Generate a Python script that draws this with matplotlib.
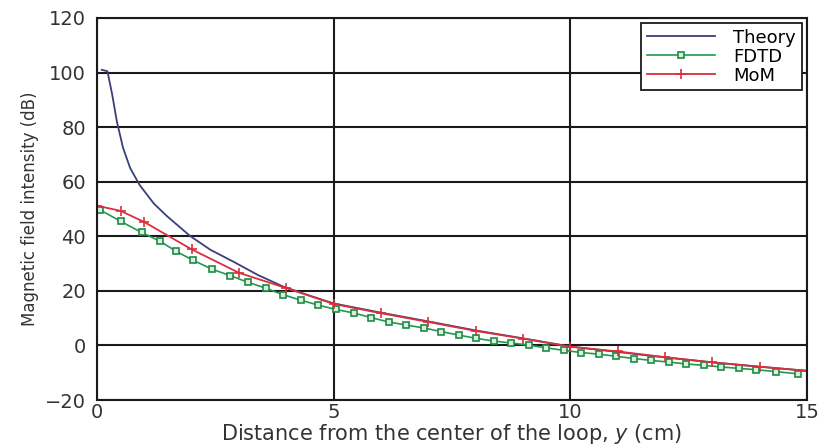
# Magnetic field intensity along the axis of the loop: theory vs FDTD vs MoM

import numpy as np
import matplotlib.pyplot as plt

plt.rcParams['font.family'] = ['DejaVu Sans']

# Theory curve
theory_x = [0.1, 0.22, 0.32, 0.42, 0.55, 0.7, 0.9, 1.2, 1.47, 1.96, 2.4, 2.87,
            3.4, 3.93, 4.5, 5, 6, 7, 8, 9, 10, 11, 12, 13, 14, 15]
theory_y = [101, 100.5, 92, 82, 72.4, 65, 58.8, 52, 47.5, 40.2, 35, 30.8,
            25.8, 21.6, 18.2, 15.4, 12, 8.8, 5.5, 2.6, -0.4, -2.4, -4.4, -6.2, -7.8, -9.3]

# FDTD samples
fdtd_x = [0.06, 0.5, 0.94, 1.33, 1.67, 2.02, 2.42, 2.81, 3.18, 3.56,
          3.93, 4.3, 4.67, 5.04, 5.42, 5.79, 6.16, 6.53, 6.9, 7.27,
          7.64, 8.01, 8.38, 8.75, 9.12, 9.49, 9.86, 10.23, 10.6, 10.97,
          11.34, 11.71, 12.08, 12.45, 12.82, 13.19, 13.56, 13.93, 14.35, 14.8]
fdtd_y = [49.7, 45.5, 41.4, 38.2, 34.5, 31.3, 28.0, 25.6, 23.2, 21.0,
          18.6, 16.6, 14.8, 13.2, 11.9, 10.2, 8.6, 7.5, 6.4, 5.1,
          3.8, 2.6, 1.6, 0.9, 0.1, -0.9, -1.8, -2.6, -3.2, -4.0,
          -4.8, -5.5, -6.1, -6.8, -7.3, -7.9, -8.4, -8.9, -9.6, -10.4]

# MoM samples
mom_x = [0, 0.5, 1, 2, 3, 4, 5, 6, 7, 8, 9, 10, 11, 12, 13, 14, 15]
mom_y = [51.2, 49.3, 45.2, 35.2, 26.6, 21.0, 15.2, 11.8, 8.6, 5.3, 2.5,
         -0.5, -2.2, -4.3, -6.2, -7.8, -9.3]

fig = plt.figure(figsize=(8.25, 4.45), dpi=100)
ax = fig.add_axes([0.1176, 0.1011, 0.8606, 0.8585])

ax.plot(theory_x, theory_y, color='#3b3f78', lw=1.3, label='Theory')
ax.plot(fdtd_x, fdtd_y, color='#1f9a4f', lw=1.2, marker='s', ms=5,
        mfc='#d8f0dc', mec='#1f8a45', mew=1.2, label='FDTD')
ax.plot(mom_x, mom_y, color='#d8303c', lw=1.3, marker='+', ms=7,
        mew=1.2, label='MoM')

ax.set_xlim(0, 15)
ax.set_ylim(-20, 120)
ax.set_xticks([0, 5, 10, 15])
ax.set_yticks(np.arange(-20, 121, 20))
ax.grid(True, color='#1a1a1a', lw=1.5)
ax.set_axisbelow(True)
for s in ax.spines.values():
    s.set_color('#1a1a1a')
    s.set_linewidth(1.5)
ax.tick_params(length=0, labelsize=14, labelcolor='#333333')
ax.tick_params(axis='y', pad=8)
ax.tick_params(axis='x', pad=2)

ax.set_xlabel('Distance from the center of the loop, $\\it{y}$ (cm)',
              fontsize=15, color='#333333', labelpad=0)
ax.set_ylabel('Magnetic field intensity (dB)', fontsize=12,
              color='#333333', labelpad=4)

leg = ax.legend(loc='upper right', fontsize=13, fancybox=False,
                framealpha=1, edgecolor='#1a1a1a', handlelength=3.8,
                borderaxespad=0.3, labelspacing=0.05, borderpad=0.3,
                handletextpad=1.0)
leg.get_frame().set_linewidth(1.3)

plt.savefig('out.png', dpi=100)
